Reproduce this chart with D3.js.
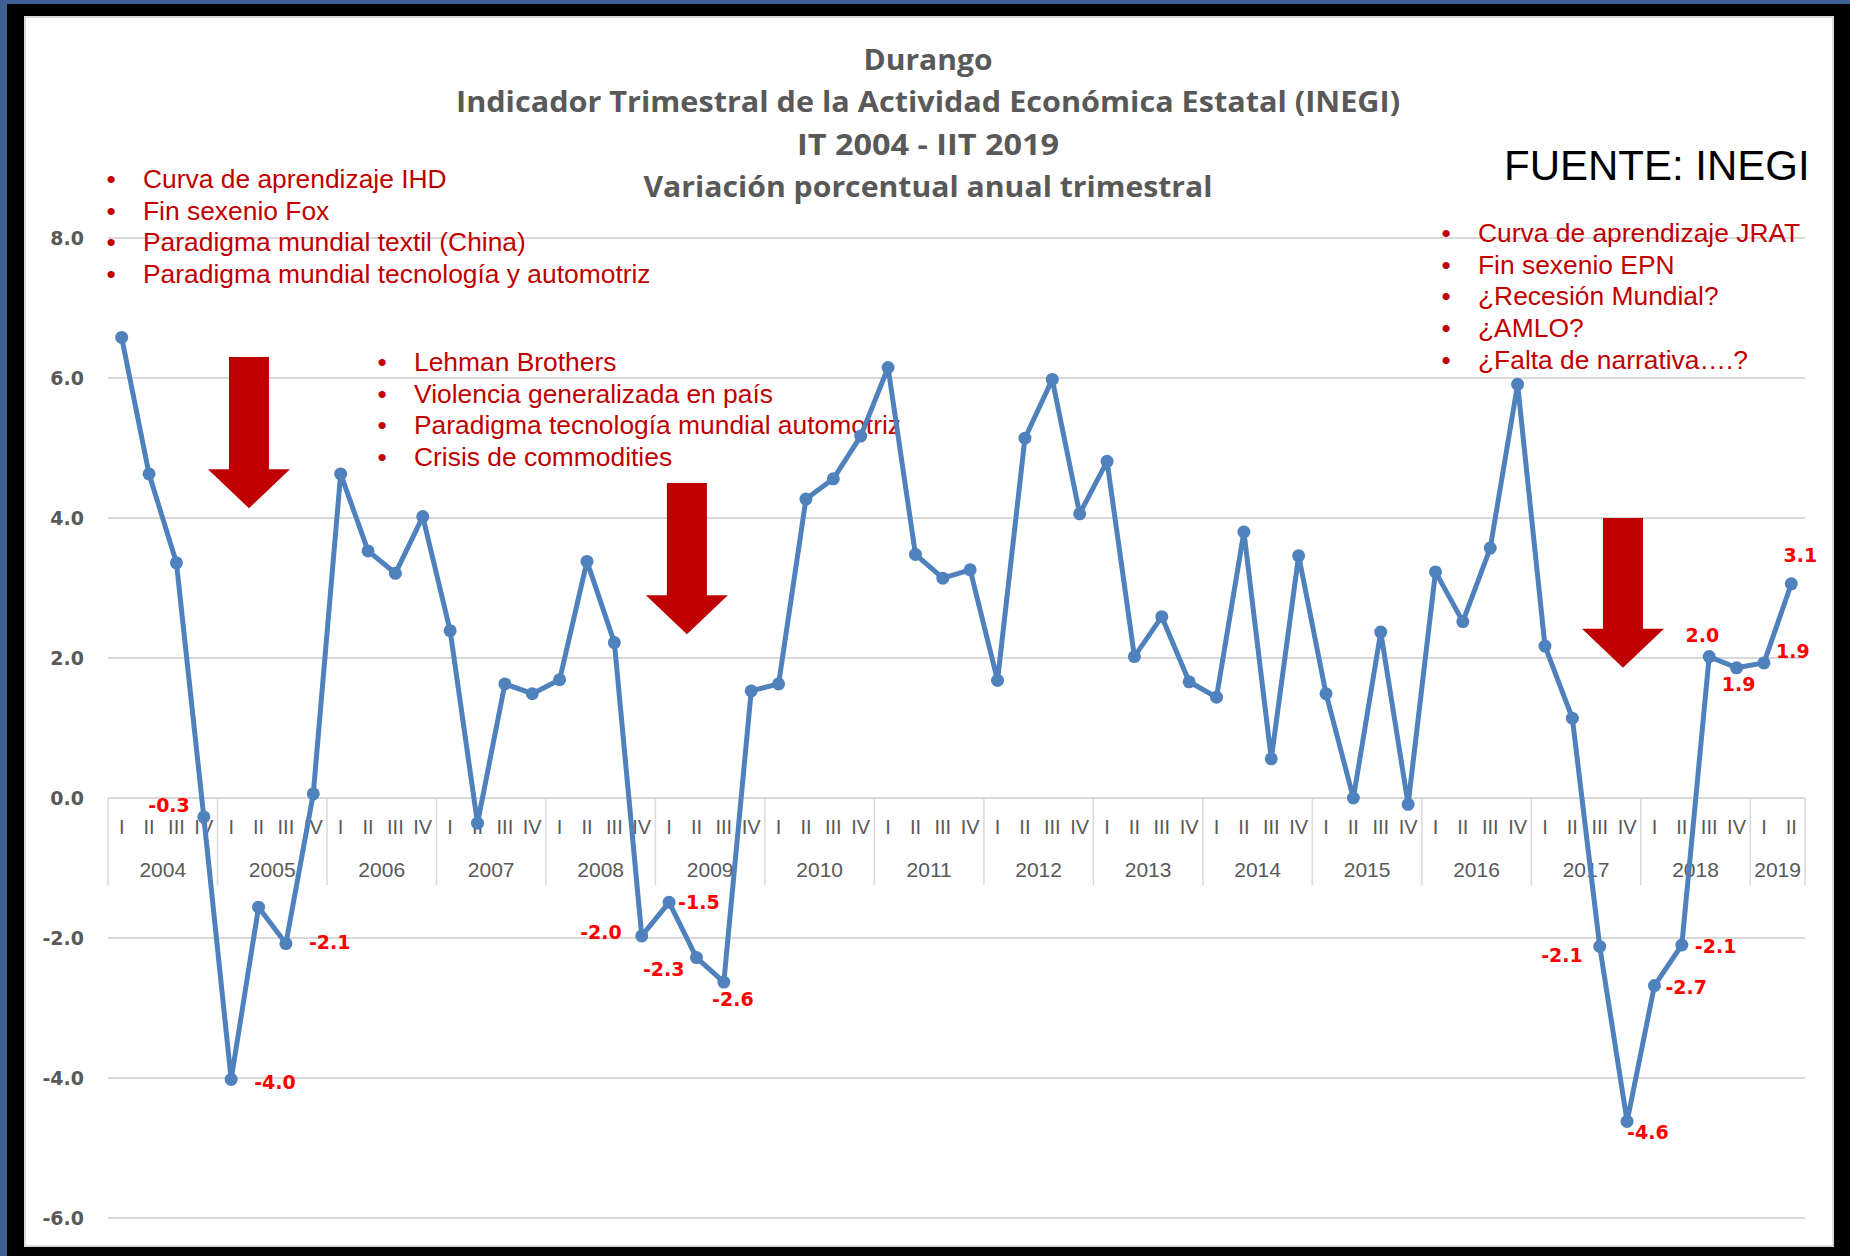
<!DOCTYPE html>
<meta charset="utf-8">
<style>
body { margin: 0; background: #000; }
svg { display: block; }
.grid line { stroke: #d9d9d9; stroke-width: 2; }
.ytick { font: bold 19px "DejaVu Sans"; fill: #595959; text-anchor: end; }
.qlab { font: 20px "Liberation Sans"; fill: #595959; text-anchor: middle; }
.ylab { font: 21px "Liberation Sans"; fill: #595959; text-anchor: middle; }
.sep { stroke: #d9d9d9; stroke-width: 1.5; }
.serie { fill: none; stroke: #4f81bd; stroke-width: 5; stroke-linejoin: round; }
.dot { fill: #4f81bd; }
.vlab { font: bold 19px "DejaVu Sans"; fill: #ff0000; }
.title { font: bold 29px "Open Sans"; fill: #595959; text-anchor: middle; }
.note { font: 26.4px "Liberation Sans"; fill: #c00000; }
.fuente { font: 42px "Liberation Sans"; fill: #000; }
.arrow { fill: #c00000; }
</style>
<svg width="1850" height="1256"></svg>
<script src="https://d3js.org/d3.v7.min.js"></script>
<script>

var quarters = ["I", "II", "III", "IV"];
var years = ["2004", "2005", "2006", "2007", "2008", "2009", "2010", "2011",
             "2012", "2013", "2014", "2015", "2016", "2017", "2018", "2019"];

// variacion % anual, IT 2004 - IIT 2019
var values = [
  6.58, 4.63, 3.36, -0.27,
  -4.02, -1.56, -2.08, 0.06,
  4.63, 3.53, 3.21, 4.02,
  2.39, -0.36, 1.63, 1.49,
  1.69, 3.38, 2.22, -1.97,
  -1.49, -2.28, -2.63, 1.53,
  1.63, 4.27, 4.56, 5.17,
  6.15, 3.48, 3.14, 3.26,
  1.68, 5.14, 5.98, 4.06,
  4.81, 2.02, 2.59, 1.66,
  1.44, 3.80, 0.56, 3.46,
  1.49, 0.00, 2.37, -0.09,
  3.23, 2.52, 3.57, 5.91,
  2.17, 1.14, -2.12, -4.62,
  -2.68, -2.10, 2.02, 1.86,
  1.93, 3.06
];

var labelled = [3, 4, 6, 19, 20, 21, 22, 54, 55, 56, 57, 58, 59, 60, 61];
var yTicks = [-6, -4, -2, 0, 2, 4, 6, 8];

var titleLines = ["Durango",
                  "Indicador Trimestral de la Actividad Económica Estatal (INEGI)",
                  "IT 2004 - IIT 2019",
                  "Variación porcentual anual trimestral"];
var titleWidths = [129, 944, 262, 569];

var notesLeft = ["Curva de aprendizaje IHD", "Fin sexenio Fox",
                 "Paradigma mundial textil (China)",
                 "Paradigma mundial tecnología y automotriz"];
var notesMid = ["Lehman Brothers", "Violencia generalizada en país",
                "Paradigma tecnología mundial automotriz", "Crisis de commodities"];
var notesRight = ["Curva de aprendizaje JRAT", "Fin sexenio EPN",
                  "¿Recesión Mundial?", "¿AMLO?", "¿Falta de narrativa….?"];

// arrows: position on category index, from value down to value
var arrows = [{at: 5.15, from: 6.3, to: 4.14},
              {at: 21.15, from: 4.5, to: 2.34},
              {at: 55.35, from: 4.0, to: 1.86}];

// where each data label sits relative to its point
var labelPlace = {
  3: ["end", -14, -5], 4: ["start", 23, 10], 6: ["start", 23, 5],
  19: ["end", -20, 3], 20: ["start", 9, 7], 21: ["end", -12, 18],
  22: ["middle", 9, 24], 54: ["end", -17, 16], 55: ["start", 0, 18],
  56: ["start", 11, 8], 57: ["start", 13, 8], 58: ["end", 10, -15],
  59: ["middle", 2, 23], 60: ["start", 12, -5], 61: ["middle", 9, -22]
};

var cats = [];
years.forEach(function(y) {
  quarters.forEach(function(q) { cats.push({year: y, q: q, key: y + " " + q}); });
});
cats = cats.slice(0, values.length);
var data = cats.map(function(c, i) { return {key: c.key, year: c.year, q: c.q, v: values[i], i: i}; });

var svg = d3.select("svg");

// frame
svg.append("rect").attr("width", 1850).attr("height", 1256).attr("fill", "#000");
svg.append("rect").attr("width", 1850).attr("height", 4).attr("fill", "#3f5f95");
svg.append("rect").attr("width", 7).attr("height", 1256).attr("fill", "#3f5f95");
svg.append("rect").attr("x", 25).attr("y", 17).attr("width", 1808).attr("height", 1229)
    .attr("fill", "#fff").attr("stroke", "#d9d9d9").attr("stroke-width", 2);

var left = 108, right = 1805;
var x = d3.scaleBand().domain(cats.map(function(c) { return c.key; })).range([left, right]).padding(0),
    xi = d3.scaleLinear().domain([0, cats.length]).range([left, right]),
    y = d3.scaleLinear().domain([-6, 8]).range([1218, 238]);

var cx = function(d) { return x(d.key) + x.bandwidth() / 2; };

// grid
svg.append("g").attr("class", "grid")
  .selectAll("line").data(yTicks).enter().append("line")
    .attr("x1", left).attr("x2", right)
    .attr("y1", function(d) { return y(d); }).attr("y2", function(d) { return y(d); });

svg.append("g").selectAll("text").data(yTicks).enter().append("text")
    .attr("class", "ytick")
    .attr("x", left - 24).attr("y", function(d) { return y(d); }).attr("dy", "0.36em")
    .text(function(d) { return d.toFixed(1); });

// category axis (quarters + years)
var y0 = y(0);
svg.append("g").selectAll("text").data(data).enter().append("text")
    .attr("class", "qlab")
    .attr("x", cx).attr("y", y0 + 36)
    .text(function(d) { return d.q; });

var yearGroups = d3.groups(data, function(d) { return d.year; });
svg.append("g").selectAll("text").data(yearGroups).enter().append("text")
    .attr("class", "ylab")
    .attr("x", function(g) {
      var a = g[1][0], b = g[1][g[1].length - 1];
      return (x(a.key) + x(b.key) + x.bandwidth()) / 2;
    })
    .attr("y", y0 + 79)
    .text(function(g) { return g[0]; });

var seps = yearGroups.map(function(g) { return x(g[1][0].key); }).concat([right]);
svg.append("g").selectAll("line").data(seps).enter().append("line")
    .attr("class", "sep")
    .attr("x1", function(d) { return d; }).attr("x2", function(d) { return d; })
    .attr("y1", y0).attr("y2", y0 + 87);

// annotations
svg.selectAll(".title").data(titleLines).enter().append("text")
    .attr("class", "title")
    .attr("x", 928).attr("y", function(d, i) { return 70 + i * 42.3; })
    .attr("textLength", function(d, i) { return titleWidths[i]; })
    .attr("lengthAdjust", "spacingAndGlyphs")
    .text(function(d) { return d; });

function notes(list, x0, y0) {
  var g = svg.append("g");
  list.forEach(function(t, i) {
    g.append("text").attr("class", "note").attr("x", x0).attr("y", y0 + i * 31.7)
      .attr("text-anchor", "middle").text("•");
    g.append("text").attr("class", "note").attr("x", x0 + 32).attr("y", y0 + i * 31.7).text(t);
  });
}
notes(notesLeft, 111, 188);
notes(notesMid, 382, 371);
notes(notesRight, 1446, 242);

svg.append("text").attr("class", "fuente").attr("x", 1504).attr("y", 180).text("FUENTE: INEGI");

svg.append("g").selectAll("path").data(arrows).enter().append("path")
    .attr("class", "arrow")
    .attr("d", function(a) {
      var c = xi(a.at), t = y(a.from), p = y(a.to), h = p - 39;
      return "M" + (c - 20) + "," + t + "H" + (c + 20) + "V" + h + "H" + (c + 41) +
             "L" + c + "," + p + "L" + (c - 41) + "," + h + "H" + (c - 20) + "Z";
    });

// series
var line = d3.line().x(cx).y(function(d) { return y(d.v); });
svg.append("path").datum(data).attr("class", "serie").attr("d", line);
svg.append("g").selectAll("circle").data(data).enter().append("circle")
    .attr("class", "dot").attr("r", 6.5)
    .attr("cx", cx).attr("cy", function(d) { return y(d.v); });

svg.append("g").selectAll("text").data(labelled).enter().append("text")
    .attr("class", "vlab")
    .attr("text-anchor", function(i) { return labelPlace[i][0]; })
    .attr("x", function(i) { return cx(data[i]) + labelPlace[i][1]; })
    .attr("y", function(i) { return y(data[i].v) + labelPlace[i][2]; })
    .text(function(i) { return data[i].v.toFixed(1); });

</script>
